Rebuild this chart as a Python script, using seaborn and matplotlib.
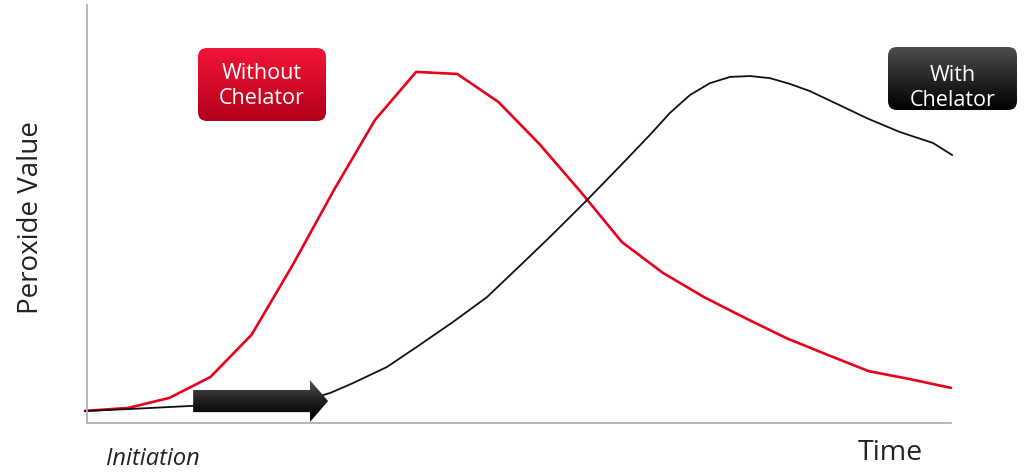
import numpy as np
import pandas as pd
import seaborn as sns
import matplotlib.pyplot as plt
from matplotlib.patches import FancyArrow, FancyBboxPatch

# Time steps and peroxide values (y in % of axis height)
red_time = [-0.05, 1, 2, 3, 4, 5, 6, 7, 8, 9, 10, 11, 12, 13, 14, 15, 16, 17, 18, 19, 20, 21]
red_value = [2.9, 3.6, 6.0, 11.0, 21.1, 37.8, 55.7, 72.5, 84.0, 83.5, 76.8, 66.7,
             55.3, 43.3, 35.9, 30.1, 25.1, 20.3, 16.3, 12.4, 10.5, 8.4]

black_time = [-0.05, 1.05, 2.50, 3.96, 5.18, 5.91, 6.47, 7.29, 8.09, 8.90, 9.72,
              10.52, 11.25, 12.15, 12.96, 13.68, 14.17, 14.66, 15.14, 15.63, 16.12,
              16.60, 17.09, 17.57, 18.13, 18.96, 19.76, 20.56, 21.03]
black_value = [2.87, 3.35, 4.07, 4.55, 5.02, 7.18, 9.57, 13.4, 18.7, 24.2, 30.1,
               37.6, 44.5, 53.3, 61.5, 68.9, 74.2, 78.5, 81.3, 82.8, 83.0,
               82.5, 81.1, 79.4, 76.8, 72.9, 69.6, 67.0, 64.1]

# initiation arrow (time start/end, level)
arrow_start, arrow_end, arrow_level = 2.58, 5.86, 5.25

red = "#e8001c"

sns.set_style("white")
plt.rcParams["font.family"] = ["Open Sans", "DejaVu Sans"]

fig = plt.figure(figsize=(10.28, 4.74), dpi=100)
ax = fig.add_axes([87 / 1028, 51 / 474, 864 / 1028, 418 / 474])

df_red = pd.DataFrame({"t": red_time, "v": red_value})
df_black = pd.DataFrame({"t": black_time, "v": black_value})
sns.lineplot(data=df_red, x="t", y="v", ax=ax, color=red, linewidth=1.9,
             sort=False, clip_on=False)
sns.lineplot(data=df_black, x="t", y="v", ax=ax, color="#111111", linewidth=1.3,
             sort=False, clip_on=False)

ax.set_xlim(0, 21)
ax.set_ylim(0, 100)
ax.set_xticks([])
ax.set_yticks([])
ax.set_xlabel("")
ax.set_ylabel("")
for side in ["top", "right"]:
    ax.spines[side].set_visible(False)
for side in ["left", "bottom"]:
    ax.spines[side].set_color("#b0b0b0")
    ax.spines[side].set_linewidth(1.3)

# thick gradient arrow
arr = FancyArrow(arrow_start, arrow_level, arrow_end - arrow_start, 0, width=5.3,
                 head_width=10.0, head_length=0.44, length_includes_head=True,
                 facecolor="none", edgecolor="none", zorder=4)
ax.add_patch(arr)
grad = np.linspace(0, 1, 64)
cols = np.array([[0.35, 0.35, 0.35]]) * (1 - grad[:, None]) ** 1.5
img = ax.imshow(cols[:, None, :], extent=(arrow_start, arrow_end, 0, 10.5),
                origin="upper", aspect="auto", zorder=4)
img.set_clip_path(arr)
ax.set_xlim(0, 21)
ax.set_ylim(0, 100)

# overlay in pixel coordinates for labels and boxes
ov = fig.add_axes([0, 0, 1, 1])
ov.set_xlim(0, 1028)
ov.set_ylim(474, 0)
ov.axis("off")


def grad_box(x0, y0, x1, y1, top, bottom):
    box = FancyBboxPatch((x0, y0), x1 - x0, y1 - y0,
                         boxstyle="round,pad=0,rounding_size=9",
                         facecolor="none", edgecolor="none")
    ov.add_patch(box)
    t = np.linspace(0, 1, 64)[:, None]
    c = np.array(top) * (1 - t) + np.array(bottom) * t
    im = ov.imshow(c[:, None, :], extent=(x0, x1, y1, y0), origin="upper", aspect="auto")
    im.set_clip_path(box)


grad_box(198, 48, 326, 121, (0.95, 0.08, 0.22), (0.70, 0.0, 0.10))
ov.text(262, 86, "Without\nChelator", color="white", fontsize=15.5, ha="center",
        va="center", linespacing=1.2)

grad_box(888, 47, 1017, 110, (0.30, 0.30, 0.30), (0.0, 0.0, 0.0))
ov.text(953, 88, "With\nChelator", color="white", fontsize=15.5, ha="center",
        va="center", linespacing=1.2)

ov.set_xlim(0, 1028)
ov.set_ylim(474, 0)

ov.text(31, 218, "Peroxide Value", rotation=90, fontsize=20, ha="center",
        va="center", color="#222222")
ov.text(890, 453, "Time", fontsize=20.5, ha="center", va="center", color="#222222")
ov.text(153, 459, "Initiation", fontsize=17, style="italic", ha="center",
        va="center", color="#222222")

fig.savefig("out.png", dpi=100)
